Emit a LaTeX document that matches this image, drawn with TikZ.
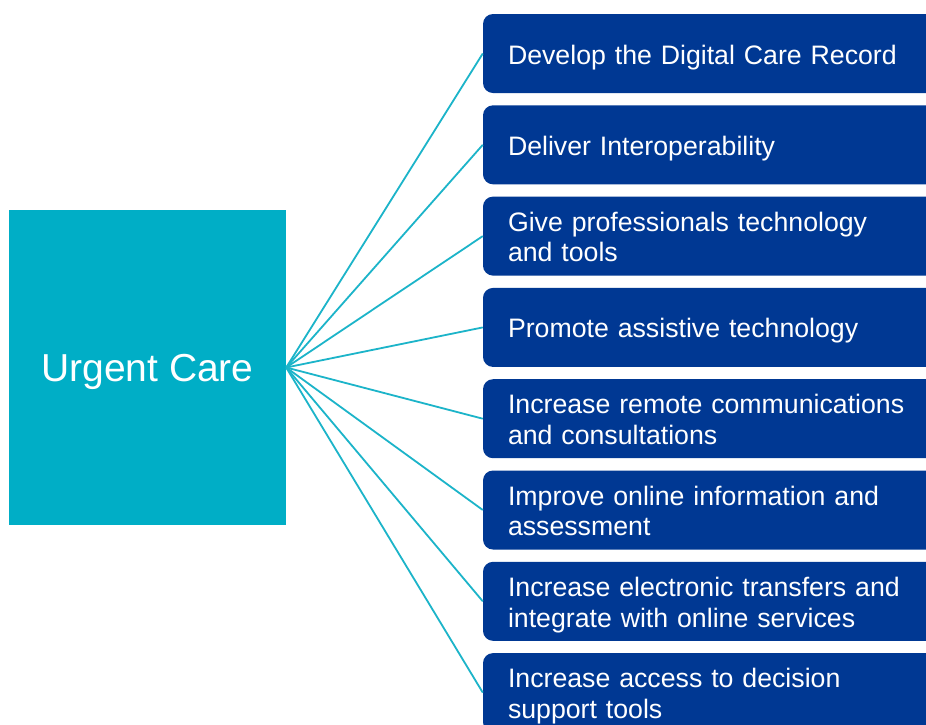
\documentclass[tikz,border=0pt]{standalone}
\usepackage{fontspec}
\setmainfont{Liberation Sans}
\usepackage{tikz}
\definecolor{careteal}{HTML}{00AEC6}
\definecolor{linkteal}{HTML}{1CB4C9}
\definecolor{aimblue}{HTML}{003893}
\tikzset{
  mainbox/.style={fill=careteal, minimum width=277pt, minimum height=315pt, inner sep=0pt, text=white, font=\fontsize{39}{44}\selectfont,
    execute at begin node={\rule{0pt}{36.4pt}}, execute at end node={\rule[-6pt]{0pt}{6pt}}},
  aimbox/.style={fill=aimblue, rounded corners=10pt, minimum height=79pt, text width=403pt, inner xsep=25pt, inner ysep=0pt, align=left, text=white, font=\fontsize{26.7}{30.5}\selectfont,
    execute at begin node={\rule{0pt}{27pt}}, execute at end node={\rule[-6pt]{0pt}{6pt}}},
  link/.style={linkteal, line width=1.8pt}
}

\begin{document}
\begin{tikzpicture}[x=1pt, y=-1pt]
\clip (0,0) rectangle (926,724);
\fill[white] (0,0) rectangle (926,724);

\node[mainbox] (urgent) at (147.5, 367.5) {Urgent Care};

\foreach \i/\txt in {1/{Develop the Digital Care Record},
                     2/{Deliver Interoperability},
                     3/{Give professionals technology\\and tools},
                     4/{Promote assistive technology},
                     5/{Increase remote communications\\and consultations},
                     6/{Improve online information and\\assessment},
                     7/{Increase electronic transfers and\\integrate with online services},
                     8/{Increase access to decision\\support tools}}
{
  \node[aimbox] (aim\i) at (709.5, {53.5 + 91.3*(\i-1)}) {\txt};
  \draw[link] (urgent.east) -- (aim\i.west);
}

\end{tikzpicture}
\end{document}
